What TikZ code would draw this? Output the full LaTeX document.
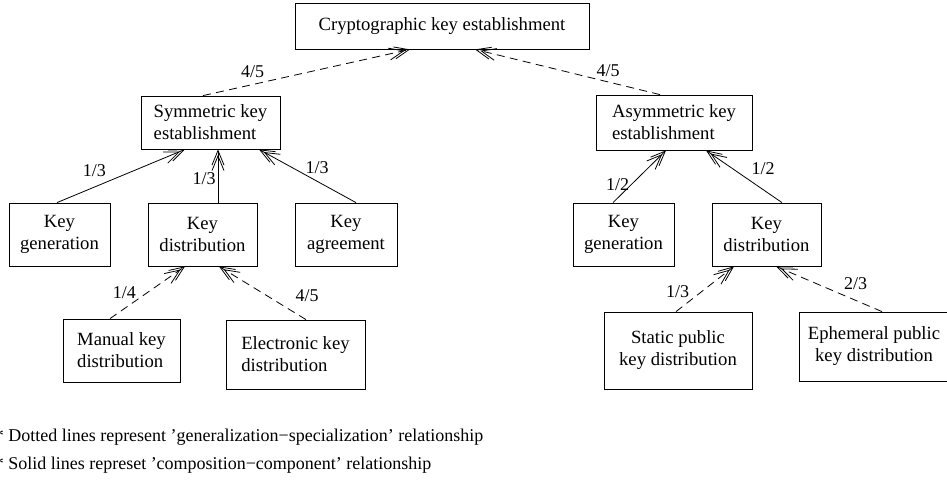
\documentclass[tikz,border=0pt]{standalone}
\usepackage{fontspec}
\setmainfont{Liberation Serif}
\usetikzlibrary{arrows.meta,positioning}
\tikzset{
  box/.style={draw, line width=0.6pt, inner sep=0pt, font=\fontsize{14}{16.5}\selectfont},
  lbl/.style={font=\fontsize{13.5}{16}\selectfont, inner sep=1.5pt},
  tip/.style={-{Straight Barb[length=11pt,width=9pt,sep=-8pt]Straight Barb[length=11pt,width=9pt]}},
  gen/.style={tip, line width=0.6pt, dash pattern=on 6pt off 4pt},
  comp/.style={tip, line width=0.6pt}
}
\begin{document}
\begin{tikzpicture}[x=0.75pt,y=-0.75pt]
      \useasboundingbox (0,0) rectangle (947,483);
      \draw
        (442,26) node[box, minimum width=220.5pt, minimum height=34.5pt] (top){Cryptographic key establishment}
        (210.5,122.5) node[box, align=left, minimum width=104.25pt, minimum height=39.75pt] (sym){Symmetric key\\establishment}
        (674,122.5) node[box, align=left, minimum width=117pt, minimum height=41.25pt] (asym){Asymmetric key\\establishment}
        (59.5,234.5) node[box, align=center, minimum width=75.75pt, minimum height=47.25pt] (kg){Key\\generation}
        (202.5,234.5) node[box, align=center, minimum width=81.75pt, minimum height=47.25pt] (kd){Key\\distribution}
        (346,234.5) node[box, align=center, minimum width=76.5pt, minimum height=47.25pt] (ka){Key\\agreement}
        (623.5,234.5) node[box, align=center, minimum width=75.75pt, minimum height=47.25pt] (akg){Key\\generation}
        (766.5,234.5) node[box, align=center, minimum width=81.75pt, minimum height=47.25pt] (akd){Key\\distribution}
        (121.5,350.5) node[box, align=left, minimum width=87.75pt, minimum height=47.25pt] (man){Manual key\\distribution}
        (295.5,354.5) node[box, align=left, minimum width=104.25pt, minimum height=51.75pt] (ele){Electronic key\\distribution}
        (678,350.5) node[box, align=center, minimum width=111pt, minimum height=57.75pt] (sta){Static public\\key distribution}
        (874,346.5) node[box, align=center, minimum width=112.5pt, minimum height=51.75pt] (eph){Ephemeral public\\key distribution};
      \begin{scope}[gen]
        \draw ([shift={(-7.5,0)}]sym.north) to node[lbl, pos=.24, above=3pt] (l1){4/5} ([shift={(-32,0)}]top.south);
        \draw ([shift={(-14,0)}]asym.north) to node[lbl, pos=.28, above=2pt] (l2){4/5} ([shift={(33,0)}]top.south);
        \draw ([shift={(-11.5,0)}]man.north) to node[lbl, pos=.5, left=7pt] (l8){1/4} ([shift={(-17.5,0)}]kd.south);
        \draw ([shift={(10.5,0)}]ele.north) to node[lbl, pos=.3, above right=0pt and 10pt] (l9){4/5} ([shift={(16.5,0)}]kd.south);
        \draw ([shift={(-2,0)}]sta.north) to node[lbl, pos=.45, left=8pt] (l10){1/3} ([shift={(-32.5,0)}]akd.south);
        \draw ([shift={(8,0)}]eph.north) to node[lbl, pos=.25, above=6pt] (l11){2/3} ([shift={(9.5,0)}]akd.south);
      \end{scope}
      \begin{scope}[comp]
        \draw ([shift={(-2.5,0)}]kg.north) to node[lbl, pos=.4, above left=2pt and 0pt] (l3){1/3} ([shift={(-25.5,0)}]sym.south);
        \draw ([shift={(15.5,0)}]kd.north) to node[lbl, pos=.45, left] (l4){1/3} ([shift={(7.5,0)}]sym.south);
        \draw ([shift={(10,0)}]ka.north) to node[lbl, pos=.4, above=4pt] (l5){1/3} ([shift={(48.5,0)}]sym.south);
        \draw ([shift={(-10.5,0)}]akg.north) to node[lbl, pos=.35, left] (l6){1/2} ([shift={(-8,0)}]asym.south);
        \draw ([shift={(15.5,0)}]akd.north) to node[lbl, pos=.66, right=13pt] (l7){1/2} ([shift={(32,0)}]asym.south);
      \end{scope}
      \node[lbl, anchor=base west, inner sep=0pt] (note1) at (-5.5,441) {* Dotted lines represent ’generalization−specialization’ relationship};
      \node[lbl, anchor=base west, inner sep=0pt] (note2) at (-5.5,469) {* Solid lines represet ’composition−component’ relationship};
    \end{tikzpicture}
\end{document}
